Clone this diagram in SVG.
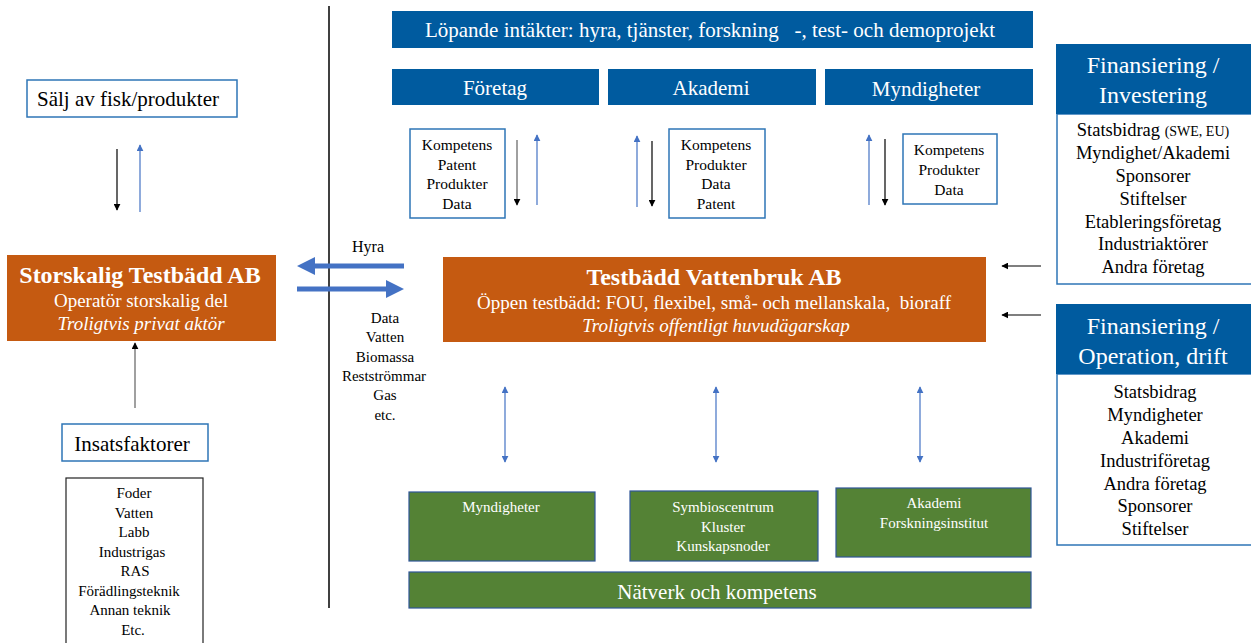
<svg xmlns="http://www.w3.org/2000/svg" width="1251" height="643" viewBox="0 0 1251 643">
<style>
text{text-anchor:middle}
.blue{fill:#005B9F}
.org{fill:#C55A11}
.grn{fill:#548235;stroke:#2F5597;stroke-width:1.2}
.wb{fill:#fff;stroke:#2E75B6;stroke-width:1.5}
.kb{fill:#fff;stroke:#222;stroke-width:1.2}
.w{fill:#fff}
.k{fill:#000}
.bk{stroke:#000;stroke-width:1.2;fill:none}
.gr{stroke:#808080;stroke-width:1.5;fill:none}
.bl{stroke:#4472C4;stroke-width:1.2;fill:none}
</style>
<defs>
<marker id="ak" viewBox="0 0 10 10" refX="9" refY="5" markerWidth="7" markerHeight="7" markerUnits="userSpaceOnUse" orient="auto"><path d="M0,0L10,5L0,10z" fill="#000"/></marker>
<marker id="ab" viewBox="0 0 10 10" refX="9" refY="5" markerWidth="7" markerHeight="7" markerUnits="userSpaceOnUse" orient="auto"><path d="M0,0L10,5L0,10z" fill="#4472C4"/></marker>
<marker id="abs" viewBox="0 0 10 10" refX="1" refY="5" markerWidth="7" markerHeight="7" markerUnits="userSpaceOnUse" orient="auto"><path d="M10,0L0,5L10,10z" fill="#4472C4"/></marker>
</defs>
<g font-family="Liberation Serif">
<line x1="329" y1="6" x2="329" y2="608" stroke="#000" stroke-width="1.5"/>

<g id="lopande">
<rect class="blue" x="392" y="11" width="641" height="37"/>
<text class="w" x="710" y="37" font-size="21" xml:space="preserve">Löpande intäkter: hyra, tjänster, forskning   -, test- och demoprojekt</text>
</g>
<g id="foretag"><rect class="blue" x="392" y="69" width="207" height="36"/><text class="w" x="495" y="95" font-size="21">Företag</text></g>
<g id="akademi"><rect class="blue" x="608" y="69" width="208" height="36"/><text class="w" x="711" y="95" font-size="21">Akademi</text></g>
<g id="myndigheter"><rect class="blue" x="825" y="69" width="208" height="36"/><text class="w" x="926" y="96" font-size="21">Myndigheter</text></g>

<g id="box-foretag"><rect class="wb" x="410" y="129" width="95" height="89"/>
<text class="k" font-size="15.5"><tspan x="457" y="150">Kompetens</tspan><tspan x="457" y="170">Patent</tspan><tspan x="457" y="189">Produkter</tspan><tspan x="457" y="209">Data</tspan></text></g>
<g id="box-akademi"><rect class="wb" x="669" y="129" width="96" height="89"/>
<text class="k" font-size="15.5"><tspan x="716" y="150">Kompetens</tspan><tspan x="716" y="170">Produkter</tspan><tspan x="716" y="189">Data</tspan><tspan x="716" y="209">Patent</tspan></text></g>
<g id="box-myndigheter"><rect class="wb" x="903" y="134" width="94" height="70"/>
<text class="k" font-size="15.5"><tspan x="949" y="155">Kompetens</tspan><tspan x="949" y="175">Produkter</tspan><tspan x="949" y="195">Data</tspan></text></g>

<g id="fin-inv">
<rect class="wb" x="1057" y="114" width="196" height="170"/>
<rect class="blue" x="1056" y="44" width="197" height="70"/>
<text class="w" font-size="24"><tspan x="1153" y="73">Finansiering /</tspan><tspan x="1153" y="103">Investering</tspan></text>
<text class="k" font-size="18.5"><tspan x="1153" y="136">Statsbidrag <tspan font-size="14">(SWE, EU)</tspan></tspan><tspan x="1153" y="159">Myndighet/Akademi</tspan><tspan x="1153" y="182">Sponsorer</tspan><tspan x="1153" y="205">Stiftelser</tspan><tspan x="1153" y="228">Etableringsföretag</tspan><tspan x="1153" y="250">Industriaktörer</tspan><tspan x="1153" y="273">Andra företag</tspan></text>
</g>
<g id="fin-op">
<rect class="wb" x="1057" y="374" width="196" height="171"/>
<rect class="blue" x="1056" y="304" width="197" height="70"/>
<text class="w" font-size="24"><tspan x="1153" y="334">Finansiering /</tspan><tspan x="1153" y="364">Operation, drift</tspan></text>
<text class="k" font-size="18.5"><tspan x="1155" y="398">Statsbidrag</tspan><tspan x="1155" y="421">Myndigheter</tspan><tspan x="1155" y="444">Akademi</tspan><tspan x="1155" y="467">Industriföretag</tspan><tspan x="1155" y="490">Andra företag</tspan><tspan x="1155" y="512">Sponsorer</tspan><tspan x="1155" y="535">Stiftelser</tspan></text>
</g>

<g id="testbadd-vattenbruk">
<rect class="org" x="443" y="257" width="543" height="85"/>
<text class="w" x="714" y="285" font-size="24" font-weight="bold">Testbädd Vattenbruk AB</text>
<text class="w" x="714" y="309" font-size="19" xml:space="preserve">Öppen testbädd: FOU, flexibel, små- och mellanskala,  bioraff</text>
<text class="w" x="716" y="332" font-size="19" font-style="italic">Troligtvis offentligt huvudägarskap</text>
</g>

<g id="storskalig">
<rect class="org" x="7" y="255" width="269" height="86"/>
<text class="w" x="140" y="283" font-size="24" font-weight="bold">Storskalig Testbädd AB</text>
<text class="w" x="141" y="307" font-size="19">Operatör storskalig del</text>
<text class="w" x="141" y="330" font-size="19" font-style="italic">Troligtvis privat aktör</text>
</g>

<g id="salj"><rect class="wb" x="27" y="80" width="210" height="37"/><text class="k" x="128" y="106" font-size="21">Sälj av fisk/produkter</text></g>

<g id="insats"><rect class="wb" x="62" y="424" width="146" height="37"/><text class="k" x="132" y="451" font-size="21">Insatsfaktorer</text></g>
<g id="insats-lista"><rect class="kb" x="66" y="478" width="137" height="170"/>
<text class="k" font-size="15"><tspan x="134" y="498">Foder</tspan><tspan x="134" y="518">Vatten</tspan><tspan x="134" y="537">Labb</tspan><tspan x="132" y="557">Industrigas</tspan><tspan x="135" y="576">RAS</tspan><tspan x="129" y="596">Förädlingsteknik</tspan><tspan x="130" y="615">Annan teknik</tspan><tspan x="133" y="635">Etc.</tspan></text></g>

<g id="flow-labels">
<text class="k" x="368" y="252" font-size="16">Hyra</text>
<text class="k" font-size="15"><tspan x="385" y="323">Data</tspan><tspan x="385" y="342">Vatten</tspan><tspan x="385" y="362">Biomassa</tspan><tspan x="384" y="381">Restströmmar</tspan><tspan x="385" y="400">Gas</tspan><tspan x="385" y="420">etc.</tspan></text>
</g>

<g id="g-myndigheter"><rect class="grn" x="409" y="492" width="186" height="69"/><text class="w" x="501" y="512" font-size="15">Myndigheter</text></g>
<g id="g-symbios"><rect class="grn" x="630" y="491" width="188" height="70"/>
<text class="w" font-size="15"><tspan x="723" y="512">Symbioscentrum</tspan><tspan x="723" y="532">Kluster</tspan><tspan x="723" y="551">Kunskapsnoder</tspan></text></g>
<g id="g-akademi"><rect class="grn" x="836" y="488" width="195" height="69"/>
<text class="w" font-size="15"><tspan x="934" y="508">Akademi</tspan><tspan x="934" y="528">Forskningsinstitut</tspan></text></g>
<g id="g-natverk"><rect class="grn" x="409" y="572" width="622" height="36"/><text class="w" x="717" y="599" font-size="21">Nätverk och kompetens</text></g>

<g id="connectors">
<line class="bk" x1="117" y1="149" x2="117" y2="210" marker-end="url(#ak)"/>
<line class="bl" x1="140" y1="212" x2="140" y2="145" marker-end="url(#ab)"/>
<line class="gr" x1="135" y1="408" x2="135" y2="343" marker-end="url(#ak)"/>
<line class="gr" x1="517" y1="140" x2="517" y2="205" marker-end="url(#ak)"/>
<line class="bl" x1="537" y1="205" x2="537" y2="135" marker-end="url(#ab)"/>
<line class="bl" x1="637" y1="207" x2="637" y2="136" marker-end="url(#ab)"/>
<line class="bk" x1="652" y1="141" x2="652" y2="206" marker-end="url(#ak)"/>
<line class="bl" x1="869" y1="205" x2="869" y2="135" marker-end="url(#ab)"/>
<line class="bk" x1="885" y1="139" x2="885" y2="205" marker-end="url(#ak)"/>
<line class="bk" x1="1041" y1="266" x2="1002" y2="266" marker-end="url(#ak)"/>
<line class="bk" x1="1041" y1="315" x2="1002" y2="315" marker-end="url(#ak)"/>
<line class="bl" x1="505" y1="387" x2="505" y2="462" marker-start="url(#abs)" marker-end="url(#ab)"/>
<line class="bl" x1="716" y1="387" x2="716" y2="462" marker-start="url(#abs)" marker-end="url(#ab)"/>
<line class="bl" x1="920" y1="387" x2="920" y2="462" marker-start="url(#abs)" marker-end="url(#ab)"/>
<path d="M404,263.5H315V257L297,266L315,275V268.5H404Z" fill="#4472C4"/>
<path d="M297,286.5H386V280L404,289L386,298V291.5H297Z" fill="#4472C4"/>
</g>
</g>
</svg>
